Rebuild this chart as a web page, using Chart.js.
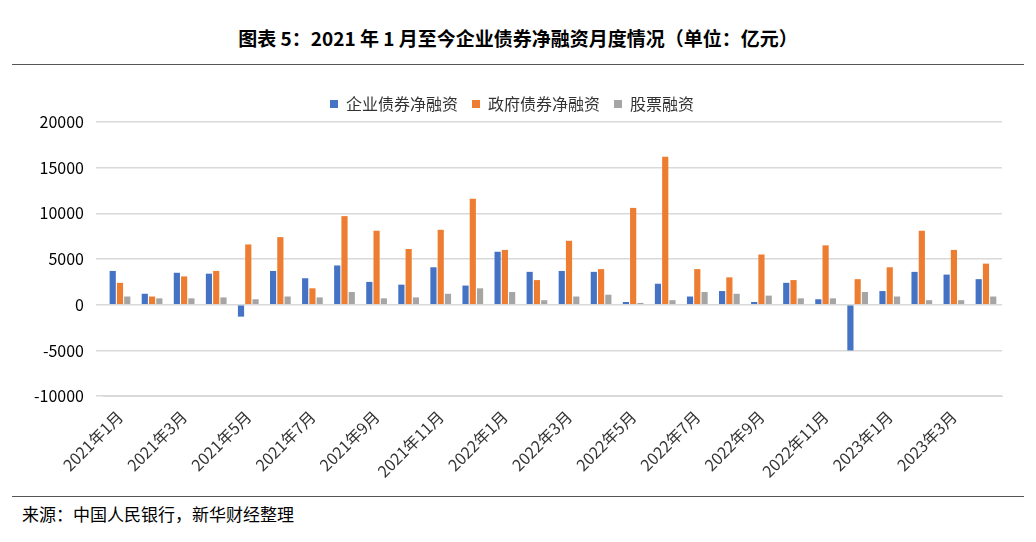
<!DOCTYPE html>
<html><head><meta charset="utf-8">
<script src="https://cdn.jsdelivr.net/npm/chart.js@4"></script>
<style>
body{margin:0;width:1036px;height:542px;background:#fff;font-family:"Noto Sans CJK SC",sans-serif;position:relative;overflow:hidden}
#title{position:absolute;top:24px;left:0;width:1036px;text-align:center;font-size:19px;font-weight:bold;color:#000}
#l1{position:absolute;top:64px;left:12px;width:1012px;border-top:1px solid #555}
#l2{position:absolute;top:496px;left:12px;width:1012px;border-top:1px solid #555}
#src{position:absolute;top:501px;left:22px;font-size:17px;color:#000}
#wrap{position:absolute;top:82px;left:22px;width:990px;height:402px}
</style></head><body>
<div id="title">图表 5：2021 年 1 月至今企业债券净融资月度情况（单位：亿元）</div>
<div id="l1"></div>
<div id="wrap"><canvas id="c"></canvas></div>
<div id="l2"></div>
<div id="src">来源：中国人民银行，新华财经整理</div>
<script>
const categories=["2021年1月","2021年2月","2021年3月","2021年4月","2021年5月","2021年6月","2021年7月","2021年8月","2021年9月","2021年10月","2021年11月","2021年12月","2022年1月","2022年2月","2022年3月","2022年4月","2022年5月","2022年6月","2022年7月","2022年8月","2022年9月","2022年10月","2022年11月","2022年12月","2023年1月","2023年2月","2023年3月","2023年4月"];
const corporateBond=[3700,1200,3500,3400,-1300,3700,2900,4300,2500,2200,4100,2100,5800,3600,3700,3600,300,2300,900,1500,300,2400,600,-5000,1500,3600,3300,2800];
const governmentBond=[2400,900,3100,3700,6600,7400,1800,9700,8100,6100,8200,11600,6000,2700,7000,3900,10600,16200,3900,3000,5500,2700,6500,2800,4100,8100,6000,4500];
const equity=[900,700,700,800,600,900,800,1400,700,800,1200,1800,1400,500,900,1100,200,500,1400,1200,1000,700,700,1400,900,500,500,900];
const yTicks=[-10000,-5000,0,5000,10000,15000,20000];
const font={family:"Noto Sans CJK SC",size:16};
new Chart(document.getElementById('c'),{type:'bar',
data:{labels:categories,datasets:[
{label:'企业债券净融资',data:corporateBond,backgroundColor:'#4472C4'},
{label:'政府债券净融资',data:governmentBond,backgroundColor:'#ED7D31'},
{label:'股票融资',data:equity,backgroundColor:'#A5A5A5'}]},
options:{animation:false,responsive:true,maintainAspectRatio:false,
layout:{padding:{right:10}},
datasets:{bar:{categoryPercentage:0.68,barPercentage:0.85}},
plugins:{legend:{labels:{font:{family:"Noto Sans CJK SC",size:16},color:'#333',boxWidth:8,boxHeight:8,padding:14}},tooltip:{enabled:false}},
scales:{x:{grid:{display:false},border:{color:'#d9d9d9'},ticks:{autoSkip:false,maxRotation:45,minRotation:45,color:'#333',font,callback:(v,i)=>i%2===0?categories[i]:''}},
y:{min:-10000,max:20000,afterBuildTicks:a=>{a.ticks=yTicks.map(v=>({value:v}));},grid:{color:'#d9d9d9',lineWidth:1.5},border:{display:false},ticks:{color:'#000',font:{family:"Noto Sans CJK SC",size:16},padding:12,callback:v=>String(v)}}}}});
</script></body></html>
